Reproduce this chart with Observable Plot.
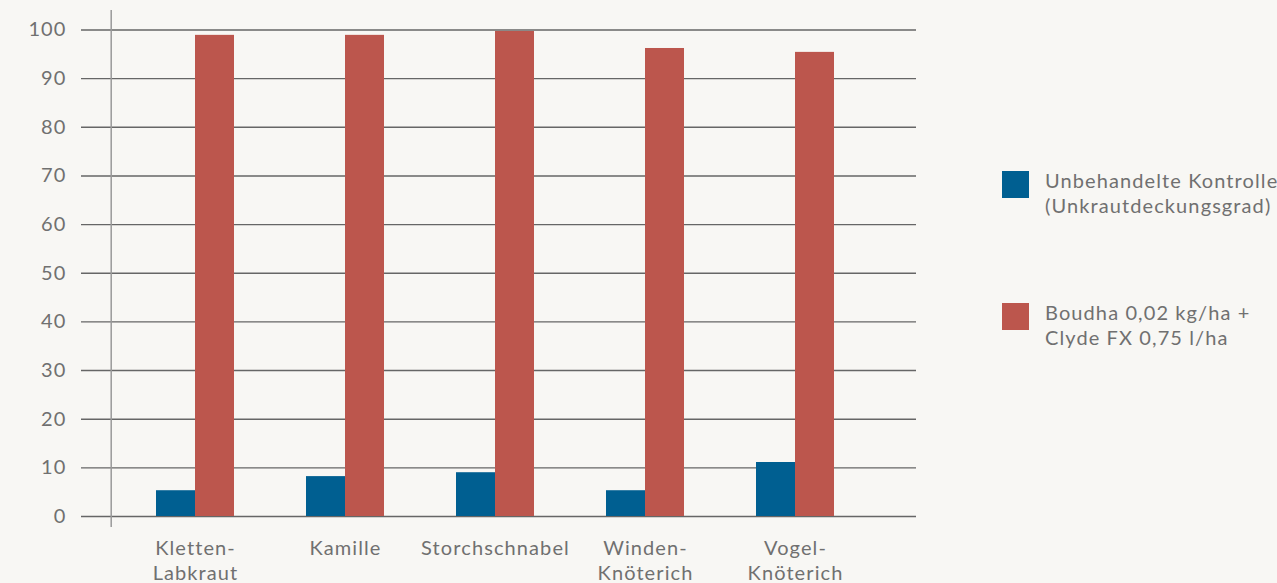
<!DOCTYPE html>
<html>
<head>
<meta charset="utf-8">
<script src="https://cdn.jsdelivr.net/npm/d3@7"></script>
<script src="https://cdn.jsdelivr.net/npm/@observablehq/plot@0.6"></script>
<style>
  html, body { margin: 0; padding: 0; background: #f8f7f4; }
  #wrap { position: relative; width: 1277px; height: 583px; overflow: hidden; font-family: Lato, sans-serif; color: #707070; background: #f8f7f4; }
  #wrap svg { position: absolute; left: 0; top: 0; }
  .item { position: absolute; left: 1002px; display: flex; align-items: flex-start; }
  .swatch { width: 27px; height: 27px; margin-top: 3.5px; flex: none; }
  .label { margin-left: 16px; font-size: 20px; letter-spacing: 1.1px; line-height: 25px; white-space: nowrap; }
</style>
</head>
<body>
<div id="wrap"></div>
<script>
// ---- data ----
const categories = ["Kletten-\nLabkraut", "Kamille", "Storchschnabel", "Winden-\nKnöterich", "Vogel-\nKnöterich"];
const series = ["Unbehandelte Kontrolle (Unkrautdeckungsgrad)", "Boudha 0,02 kg/ha + Clyde FX 0,75 l/ha"];
const seriesLines = [["Unbehandelte Kontrolle", "(Unkrautdeckungsgrad)"], ["Boudha 0,02 kg/ha +", "Clyde FX 0,75 l/ha"]];
const controlValues = [5.3, 8.2, 9.0, 5.3, 11.1];
const treatedValues = [98.9, 98.9, 99.7, 96.2, 95.4];
const yTicks = [0, 10, 20, 30, 40, 50, 60, 70, 80, 90, 100];
const colors = ["#005f91", "#bc564d"];

const rows = categories.flatMap((c, i) => [
  {cat: c, series: series[0], value: controlValues[i]},
  {cat: c, series: series[1], value: treatedValues[i]}
]);

const common = {width: 940, height: 583, marginTop: 29.5, marginBottom: 67};
const style = {background: "transparent", fontFamily: "Lato, sans-serif", letterSpacing: "1.1px", color: "#707070", overflow: "visible"};

const bg = Plot.plot({
  ...common,
  marginLeft: 81, marginRight: 24,
  style,
  x: {domain: [0, 1], range: [110.7, 916], axis: null},
  y: {domain: [0, 100], axis: null},
  marks: [
    Plot.ruleY(yTicks, {stroke: "#666", strokeWidth: 1.4}),
    Plot.ruleX([0], {stroke: "#999", strokeWidth: 1.5, insetTop: -19.5, insetBottom: -11}),
    Plot.axisY(yTicks, {anchor: "left", tickSize: 0, tickPadding: 15, fontSize: 20, fill: "#707070", label: null})
  ]
});

const fg = Plot.plot({
  ...common,
  marginLeft: 78, marginRight: 28,
  style,
  fx: {domain: categories, paddingInner: 0, paddingOuter: 0.2725, label: null},
  x: {domain: series, paddingInner: 0, paddingOuter: 0.8825, axis: null},
  y: {domain: [0, 100], axis: null},
  color: {domain: series, range: colors},
  marks: [
    Plot.barY(rows, {fx: "cat", x: "series", y: "value", fill: "series"}),
    Plot.axisFx({anchor: "bottom", tickSize: 0, tickPadding: 21, fontSize: 20, lineHeight: 1.25, fill: "#707070", label: null})
  ]
});

const wrap = document.getElementById("wrap");
wrap.appendChild(bg);
wrap.appendChild(fg);

const tops = [167.5, 299.5];
series.forEach((s, i) => {
  const item = document.createElement("div");
  item.className = "item";
  item.style.top = tops[i] + "px";
  const sw = document.createElement("div");
  sw.className = "swatch";
  sw.style.background = colors[i];
  const lab = document.createElement("div");
  lab.className = "label";
  lab.innerHTML = seriesLines[i].join("<br>");
  item.appendChild(sw);
  item.appendChild(lab);
  wrap.appendChild(item);
});
</script>
</body>
</html>
